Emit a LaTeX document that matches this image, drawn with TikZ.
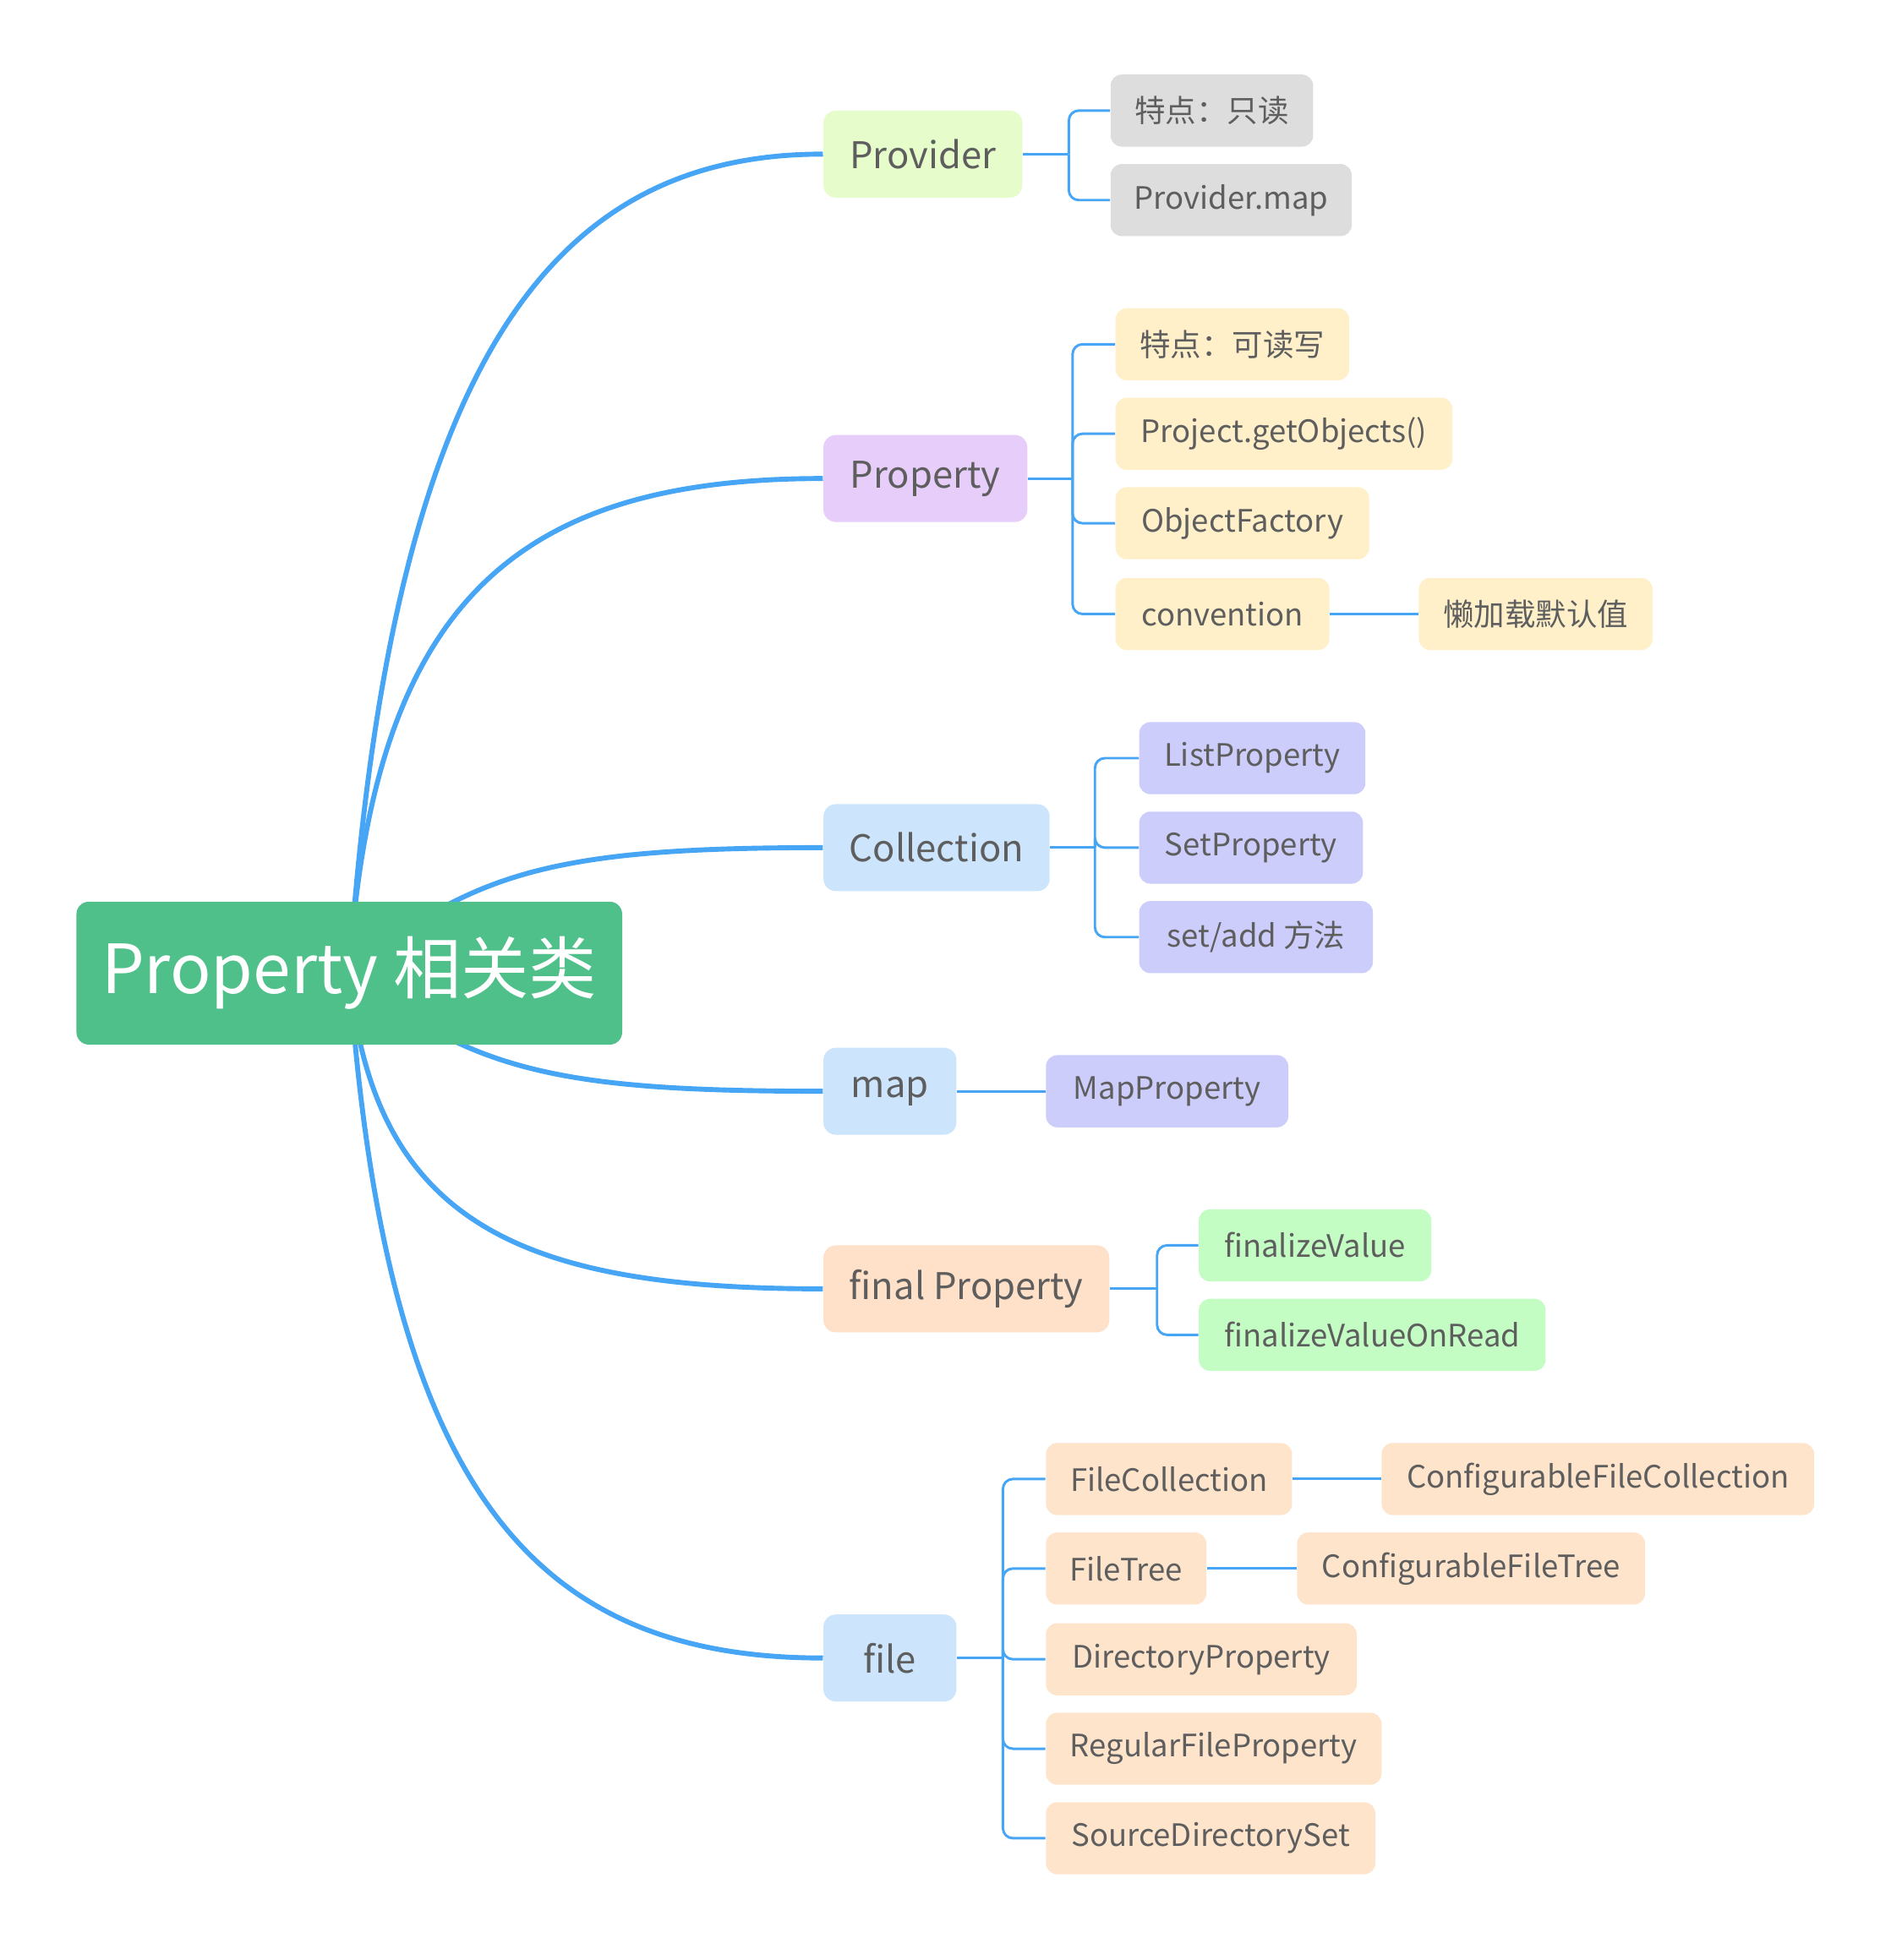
\documentclass[tikz,border=0pt]{standalone}
\usepackage{fontspec}
\setmainfont{Noto Sans CJK SC}
\usetikzlibrary{calc}
\definecolor{rootc}{RGB}{80,192,138}
\definecolor{limec}{RGB}{230,252,203}
\definecolor{lilac}{RGB}{230,205,250}
\definecolor{skyc}{RGB}{204,229,252}
\definecolor{peachA}{RGB}{255,224,200}
\definecolor{greyc}{RGB}{221,221,221}
\definecolor{yelc}{RGB}{255,240,202}
\definecolor{lavc}{RGB}{205,205,251}
\definecolor{grnc}{RGB}{196,253,196}
\definecolor{peachB}{RGB}{255,228,204}
\definecolor{txtc}{RGB}{94,94,94}
\definecolor{lnc}{RGB}{70,165,245}
\begin{document}
\begin{tikzpicture}[x=0.5pt,y=-0.5pt,
  box/.style={rectangle, rounded corners=4.5pt, anchor=west, text=txtc, inner sep=0pt,
    font=\fontsize{12.4}{15}\selectfont, minimum height=29pt},
  lone/.style={box, rounded corners=5pt, minimum height=35pt, font=\fontsize{14.8}{18}\selectfont},
  rootbox/.style={rectangle, rounded corners=5pt, fill=rootc, text=white, inner sep=0pt,
    minimum width=219.5pt, minimum height=57.5pt, font=\fontsize{27.3}{32}\selectfont},
  main/.style={draw=lnc, line width=2pt},
  sub/.style={draw=lnc, line width=1pt, rounded corners=4pt}]
\useasboundingbox (0,0) rectangle (1530,1577);
\fill[white] (0,0) rectangle (1530,1577);

% level 1
\node[lone, fill=limec, minimum width=80pt] (prov) at (662,124) {Provider};
\node[lone, fill=lilac, minimum width=82pt] (prop) at (662,385) {Property};
\node[lone, fill=skyc, minimum width=91pt] (coll) at (662,682) {Collection};
\node[lone, fill=skyc, minimum width=53.5pt] (map) at (662,878) {map};
\node[lone, fill=peachA, minimum width=115pt] (fin) at (662,1037) {final Property};
\node[lone, fill=skyc, minimum width=53.5pt] (file) at (662,1334) {file};

% level 2
\node[box, fill=greyc, minimum width=81.5pt] (p1) at (893,89) {特点：只读};
\node[box, fill=greyc, minimum width=97pt] (p2) at (893,161) {Provider.map};
\node[box, fill=yelc, minimum width=94pt] (q1) at (897,277) {特点：可读写};
\node[box, fill=yelc, minimum width=135.5pt] (q2) at (897,349) {Project.getObjects()};
\node[box, fill=yelc, minimum width=102pt] (q3) at (897,421) {ObjectFactory};
\node[box, fill=yelc, minimum width=86pt] (q4) at (897,494) {convention};
\node[box, fill=yelc, minimum width=94pt] (q5) at (1141,494) {懒加载默认值};
\node[box, fill=lavc, minimum width=91pt] (c1) at (916,610) {ListProperty};
\node[box, fill=lavc, minimum width=90pt] (c2) at (916,682) {SetProperty};
\node[box, fill=lavc, minimum width=94pt] (c3) at (916,754) {set/add 方法};
\node[box, fill=lavc, minimum width=97.5pt] (m1) at (841,878) {MapProperty};
\node[box, fill=grnc, minimum width=93.5pt] (f1) at (964,1002) {finalizeValue};
\node[box, fill=grnc, minimum width=139.5pt] (f2) at (964,1074) {finalizeValueOnRead};
\node[box, fill=peachB, minimum width=99pt] (e1) at (841,1190) {FileCollection};
\node[box, fill=peachB, minimum width=174pt] (e2) at (1111,1190) {ConfigurableFileCollection};
\node[box, fill=peachB, minimum width=64.5pt] (e3) at (841,1262) {FileTree};
\node[box, fill=peachB, minimum width=140pt] (e4) at (1043,1262) {ConfigurableFileTree};
\node[box, fill=peachB, minimum width=125pt] (e5) at (841,1335) {DirectoryProperty};
\node[box, fill=peachB, minimum width=135pt] (e6) at (841,1407) {RegularFileProperty};
\node[box, fill=peachB, minimum width=132.5pt] (e7) at (841,1479) {SourceDirectorySet};

% main curves
\coordinate (rc) at (281,783);
\draw[main] (rc) .. controls (315,280) and (450,124) .. (prov.west);
\draw[main] (rc) .. controls (300,480) and (420,385) .. (prop.west);
\draw[main] (rc) .. controls (380,700) and (450,682) .. (coll.west);
\draw[main] (rc) .. controls (380,862) and (450,878) .. (map.west);
\draw[main] (rc) .. controls (300,985) and (420,1037) .. (fin.west);
\draw[main] (rc) .. controls (310,1200) and (430,1334) .. (file.west);

\node[rootbox] (root) at (rc) {Property 相关类};

% sub connectors
\coordinate (tp) at ($(prov.east)+(37,0)$);
\draw[sub] (prov.east) -- (tp);
\draw[sub] (tp) |- (p1.west);
\draw[sub] (tp) |- (p2.west);

\coordinate (tq) at ($(prop.east)+(36,0)$);
\draw[sub] (prop.east) -- (tq);
\draw[sub] (tq) |- (q1.west);
\draw[sub] (tq) |- (q2.west);
\draw[sub] (tq) |- (q3.west);
\draw[sub] (tq) |- (q4.west);
\draw[sub] (q4.east) -- (q5.west);

\coordinate (tc) at ($(coll.east)+(36,0)$);
\draw[sub] (coll.east) -- (tc);
\draw[sub] (tc) |- (c1.west);
\draw[sub] (tc) |- (c2.west);
\draw[sub] (tc) |- (c3.west);

\draw[sub] (map.east) -- (m1.west);

\coordinate (tf) at ($(fin.east)+(38,0)$);
\draw[sub] (fin.east) -- (tf);
\draw[sub] (tf) |- (f1.west);
\draw[sub] (tf) |- (f2.west);

\coordinate (te) at ($(file.east)+(37,0)$);
\draw[sub] (file.east) -- (te);
\draw[sub] (te) |- (e1.west);
\draw[sub] (te) |- (e3.west);
\draw[sub] (te) |- (e5.west);
\draw[sub] (te) |- (e6.west);
\draw[sub] (te) |- (e7.west);
\draw[sub] (e1.east) -- (e2.west);
\draw[sub] (e3.east) -- (e4.west);
\end{tikzpicture}
\end{document}
